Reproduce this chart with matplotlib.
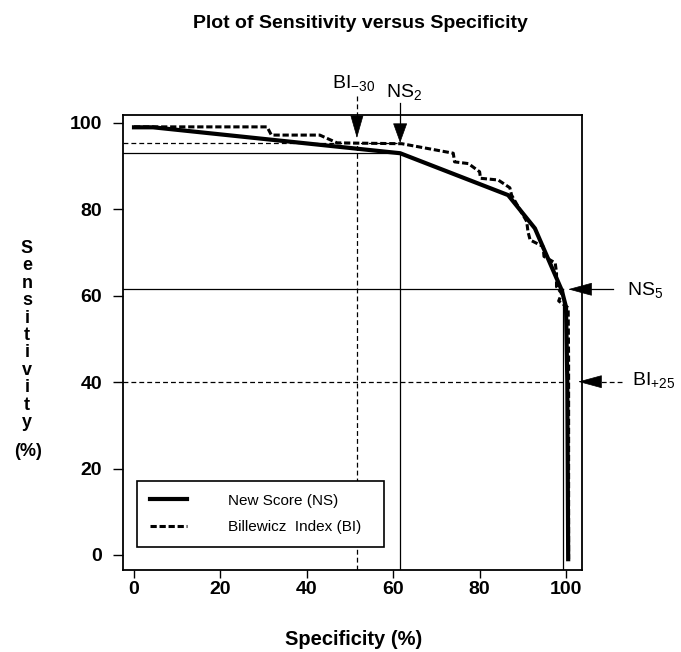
import matplotlib
matplotlib.use('Agg')
import matplotlib.pyplot as plt

plt.rcParams['font.family'] = ['Liberation Sans', 'DejaVu Sans']
plt.rcParams['mathtext.fontset'] = 'custom'
plt.rcParams['mathtext.rm'] = 'Liberation Sans'
plt.rcParams['lines.scale_dashes'] = False

# curves: specificity (%) vs sensitivity (%)
ns_spec = [0, 4.4, 61.6, 86.6, 92.8, 99.0, 100.0, 100.3, 100.5]
ns_sens = [99.0, 99.0, 93.0, 83.3, 75.6, 61.3, 57.4, 40.0, -1.0]

bi_spec = [0, 30.8, 31.8, 43.0, 47.0, 62.0, 73.9, 74.2, 77.4, 80.0, 80.2, 84.3,
           87.0, 87.4, 90.9, 91.2, 91.7, 94.7, 94.9, 97.5, 97.8, 97.8, 99.0,
           98.3, 100.5, 100.6, 100.6]
bi_sens = [99.1, 99.1, 97.2, 97.2, 95.4, 95.2, 93.0, 91.0, 90.6, 88.7, 87.2, 86.8,
           85.0, 83.3, 77.2, 74.8, 72.9, 71.4, 69.1, 67.6, 65.3, 62.1, 60.5,
           58.8, 57.2, 45.0, -1.0]

# marked cut-off points (spec, sens)
ns2 = (61.6, 93.0)
bi_m30 = (51.6, 95.3)
ns5 = (99.3, 61.5)
bi_p25 = (100.5, 40.1)

ticks = [0, 20, 40, 60, 80, 100]

xmin, xmax = -2.55, 103.7
ymin, ymax = -3.5, 101.85

fig = plt.figure(figsize=(6.81, 6.52), dpi=100)
ax = fig.add_axes([123/681, 82/652, 459/681, 455/652])
ax.set_xlim(xmin, xmax)
ax.set_ylim(ymin, ymax)

thin = dict(color='k', lw=0.9, zorder=1)
thin_d = dict(color='k', lw=0.9, dashes=(3.5, 2.2), zorder=1)

# reference lines for cut-offs
ax.plot([xmin, ns2[0]], [ns2[1], ns2[1]], **thin)
ax.plot([ns2[0], ns2[0]], [ymin, ns2[1]], **thin)
ax.plot([xmin, ns2[0]], [bi_m30[1], bi_m30[1]], **thin_d)
ax.plot([bi_m30[0], bi_m30[0]], [ymin, bi_m30[1]], **thin_d)
ax.plot([xmin, ns5[0]], [ns5[1], ns5[1]], **thin)
ax.plot([ns5[0], ns5[0]], [ymin, ns5[1]], **thin)
ax.plot([xmin, bi_p25[0]], [bi_p25[1], bi_p25[1]], **thin_d)

# curves
ax.plot(ns_spec, ns_sens, color='k', lw=3.0, solid_joinstyle='miter',
        label='New Score (NS)', zorder=3)
ax.plot(bi_spec, bi_sens, color='k', lw=2.2, dashes=(4.5, 2.0),
        label='Billewicz  Index (BI)', zorder=2)


def arrow(x0, y0, xb, yb, x1, y1, dashed, hl, hw):
    st = thin_d if dashed else thin
    ax.plot([x0, xb], [y0, yb], clip_on=False, **st)
    ax.annotate('', xy=(x1, y1), xytext=(xb, yb), annotation_clip=False,
                arrowprops=dict(arrowstyle='-|>,head_length=%g,head_width=%g' % (hl, hw),
                                mutation_scale=1, shrinkA=0, shrinkB=0,
                                color='k', lw=0.5))


arrow(ns2[0], 104.6, ns2[0], 99.6, ns2[0], 95.4, False, 13, 4.7)
arrow(bi_m30[0], 106.2, bi_m30[0], 101.4, bi_m30[0], 96.5, True, 15, 4.3)
arrow(110.9, ns5[1], 105.6, ns5[1], 100.5, ns5[1], False, 15.8, 4.3)
arrow(113.0, bi_p25[1], 107.9, bi_p25[1], 102.8, bi_p25[1], True, 15.8, 4.3)

lab = dict(fontsize=14, ha='left', va='baseline', clip_on=False)
ax.text(45.8, 108.1, r'$\mathregular{BI_{-30}}$', **lab)
ax.text(58.3, 106.0, r'$\mathregular{NS_{2}}$', **lab)
ax.text(114.1, 60.2, r'$\mathregular{NS_{5}}$', **lab)
ax.text(115.3, 39.4, r'$\mathregular{BI_{+25}}$', **lab)

ax.set_xticks(ticks)
ax.set_yticks(ticks)
ax.tick_params(axis='y', length=7.2, width=1, pad=7.9, labelsize=14)
ax.tick_params(axis='x', length=5.8, width=1, pad=2, labelsize=14)
for t in ax.get_xticklabels() + ax.get_yticklabels():
    t.set_fontweight('bold')
for s in ax.spines.values():
    s.set_linewidth(1.3)

leg = ax.legend(loc='lower left', bbox_to_anchor=(0.0305, 0.0505, 0.538, 0.152),
                mode='expand', borderaxespad=0, handlelength=2.4, handletextpad=2.7,
                labelspacing=0.8, borderpad=0.85, fancybox=False, edgecolor='k',
                framealpha=1, prop={'size': 11})
leg.get_frame().set_linewidth(1.2)

fig.text(360/681, 1 - 28/652, 'Plot of Sensitivity versus Specificity',
         ha='center', va='baseline', fontsize=14, fontweight='bold')
fig.text(354/681, 7/652, 'Specificity (%)', ha='center', va='baseline',
         fontsize=14.5, fontweight='bold')
fig.text(27/681, 1 - 240/652, '\n'.join('Sensitivity'), ha='center', va='top',
         fontsize=13, fontweight='bold', linespacing=1.03)
fig.text(28/681, 1 - 452/652, '(%)', ha='center', va='center',
         fontsize=13, fontweight='bold')

fig.savefig('out.png', dpi=100)
